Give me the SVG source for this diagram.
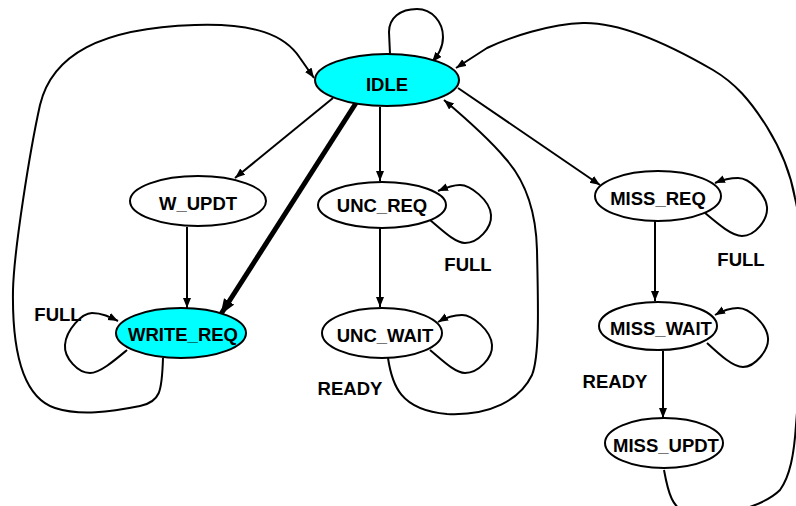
<svg xmlns="http://www.w3.org/2000/svg" width="796" height="506" viewBox="0 0 796 506">
  <style>
    .state { stroke: #000; stroke-width: 2; fill: #fff; }
    .state.active { fill: #00ffff; }
    .label { font-family: "Liberation Sans", Arial, sans-serif; font-weight: bold; font-size: 18.5px; fill: #000; text-anchor: middle; }
    .edge { fill: none; stroke: #000; stroke-width: 2; marker-end: url(#arrow); }
    .edge.bold { stroke-width: 5; marker-end: url(#arrow-bold); }
  </style>
  <defs>
    <marker id="arrow" markerUnits="userSpaceOnUse" markerWidth="11" markerHeight="9" refX="10" refY="4" orient="auto">
      <path d="M0,0 L10,4 L0,8 z" fill="#000"/>
    </marker>
    <marker id="arrow-bold" markerUnits="userSpaceOnUse" markerWidth="17" markerHeight="13" refX="15" refY="6" orient="auto">
      <path d="M0,0 L16,6 L0,12 z" fill="#000"/>
    </marker>
  </defs>
  <rect width="796" height="506" fill="#fff"/>

  <g id="connectors">
    <!-- IDLE self-loop -->
    <path class="edge" d="M 390 54 L 389 32 C 389 18, 400 9, 417 9 C 432 9, 443 22, 443 37 C 443 48, 438 55, 432 62"/>
    <!-- WRITE_REQ back to IDLE (outer left loop) -->
    <path class="edge" d="M 163 358 C 162 392, 160 402, 140 406 C 110 412, 80 416, 55 408 C 22 397, 12 350, 13 290 C 14 250, 30 150, 40 105 C 52 55, 100 28, 195 25 C 255 23, 285 35, 300 58 L 314 78"/>
    <!-- IDLE to W_UPDT -->
    <path class="edge" d="M 333 98 L 235 178"/>
    <!-- IDLE to WRITE_REQ -->
    <path class="edge bold" d="M 356 103 L 221 314"/>
    <!-- IDLE to UNC_REQ -->
    <path class="edge" d="M 380 107 L 380 181"/>
    <!-- W_UPDT to WRITE_REQ -->
    <path class="edge" d="M 187 227 L 187 308"/>
    <!-- UNC_REQ self-loop (FULL) -->
    <path class="edge" d="M 430 220 C 442 230, 455 243, 465 243 C 478 243, 492 228, 491 215 C 490 200, 470 185, 460 185 C 452 185, 445 188, 438 191"/>
    <!-- UNC_REQ to UNC_WAIT -->
    <path class="edge" d="M 380 228 L 380 307"/>
    <!-- UNC_WAIT self-loop -->
    <path class="edge" d="M 430 350 C 442 360, 455 373, 465 373 C 478 373, 493 358, 492 345 C 491 330, 472 315, 462 315 C 453 315, 445 318, 438 322"/>
    <!-- UNC_WAIT back to IDLE (READY) -->
    <path class="edge" d="M 388 358 C 392 385, 400 410, 447 414 C 490 416, 520 400, 532 375 C 540 355, 538 300, 537 250 C 536 210, 525 180, 505 158 C 490 140, 470 122, 444 100"/>
    <!-- IDLE to MISS_REQ -->
    <path class="edge" d="M 458 88 L 600 185"/>
    <!-- MISS_REQ self-loop (FULL) -->
    <path class="edge" d="M 705 213 C 718 224, 732 236, 742 236 C 755 236, 768 220, 767 207 C 766 195, 750 178, 738 178 C 730 178, 722 180, 715 183"/>
    <!-- MISS_REQ to MISS_WAIT -->
    <path class="edge" d="M 655 221 L 655 301"/>
    <!-- MISS_WAIT self-loop -->
    <path class="edge" d="M 707 343 C 720 355, 733 367, 743 367 C 755 367, 769 350, 768 338 C 767 325, 750 308, 738 308 C 730 308, 722 311, 715 315"/>
    <!-- MISS_WAIT to MISS_UPDT (READY) -->
    <path class="edge" d="M 663 351 L 663 418"/>
    <!-- MISS_UPDT back to IDLE (outer right loop, runs past the right edge) -->
    <path class="edge" d="M 664 470 C 668 492, 672 510, 690 514 C 720 520, 765 505, 780 490 C 790 476, 794 455, 796 425 C 800 380, 802 300, 801 250 C 800 225, 798 210, 795 198 C 790 170, 780 148, 767 127 C 750 100, 735 83, 713 70 C 670 45, 620 22, 583 23 C 550 24, 510 37, 487 48 L 456 68"/>
    <!-- WRITE_REQ self-loop (FULL) -->
    <path class="edge" d="M 127 350 C 115 360, 100 373, 90 373 C 78 373, 64 358, 65 345 C 66 330, 82 313, 92 313 C 102 313, 110 317, 118 321"/>
  </g>

  <g id="idle">
    <ellipse class="state active" cx="387" cy="80" rx="72" ry="26"/>
    <text class="label" x="387" y="91">IDLE</text>
  </g>
  <g id="w_updt">
    <ellipse class="state" cx="198" cy="201" rx="68" ry="25"/>
    <text class="label" x="198" y="210">W_UPDT</text>
  </g>
  <g id="unc_req">
    <ellipse class="state" cx="382" cy="205" rx="64" ry="23"/>
    <text class="label" x="382" y="212">UNC_REQ</text>
  </g>
  <g id="unc_wait">
    <ellipse class="state" cx="382" cy="333" rx="60" ry="25"/>
    <text class="label" x="385" y="342">UNC_WAIT</text>
  </g>
  <g id="write_req">
    <ellipse class="state active" cx="181" cy="333" rx="65" ry="25"/>
    <text class="label" x="183" y="341">WRITE_REQ</text>
  </g>
  <g id="miss_req">
    <ellipse class="state" cx="658" cy="196" rx="63" ry="25"/>
    <text class="label" x="658" y="205">MISS_REQ</text>
  </g>
  <g id="miss_wait">
    <ellipse class="state" cx="658" cy="326" rx="59" ry="24"/>
    <text class="label" x="661" y="335">MISS_WAIT</text>
  </g>
  <g id="miss_updt">
    <ellipse class="state" cx="664" cy="443" rx="59" ry="25"/>
    <text class="label" x="666" y="452">MISS_UPDT</text>
  </g>

  <g id="edge-labels">
    <text class="label" x="58" y="321">FULL</text>
    <text class="label" x="468" y="271">FULL</text>
    <text class="label" x="741" y="266">FULL</text>
    <text class="label" x="350" y="395">READY</text>
    <text class="label" x="615" y="388">READY</text>
  </g>
</svg>
